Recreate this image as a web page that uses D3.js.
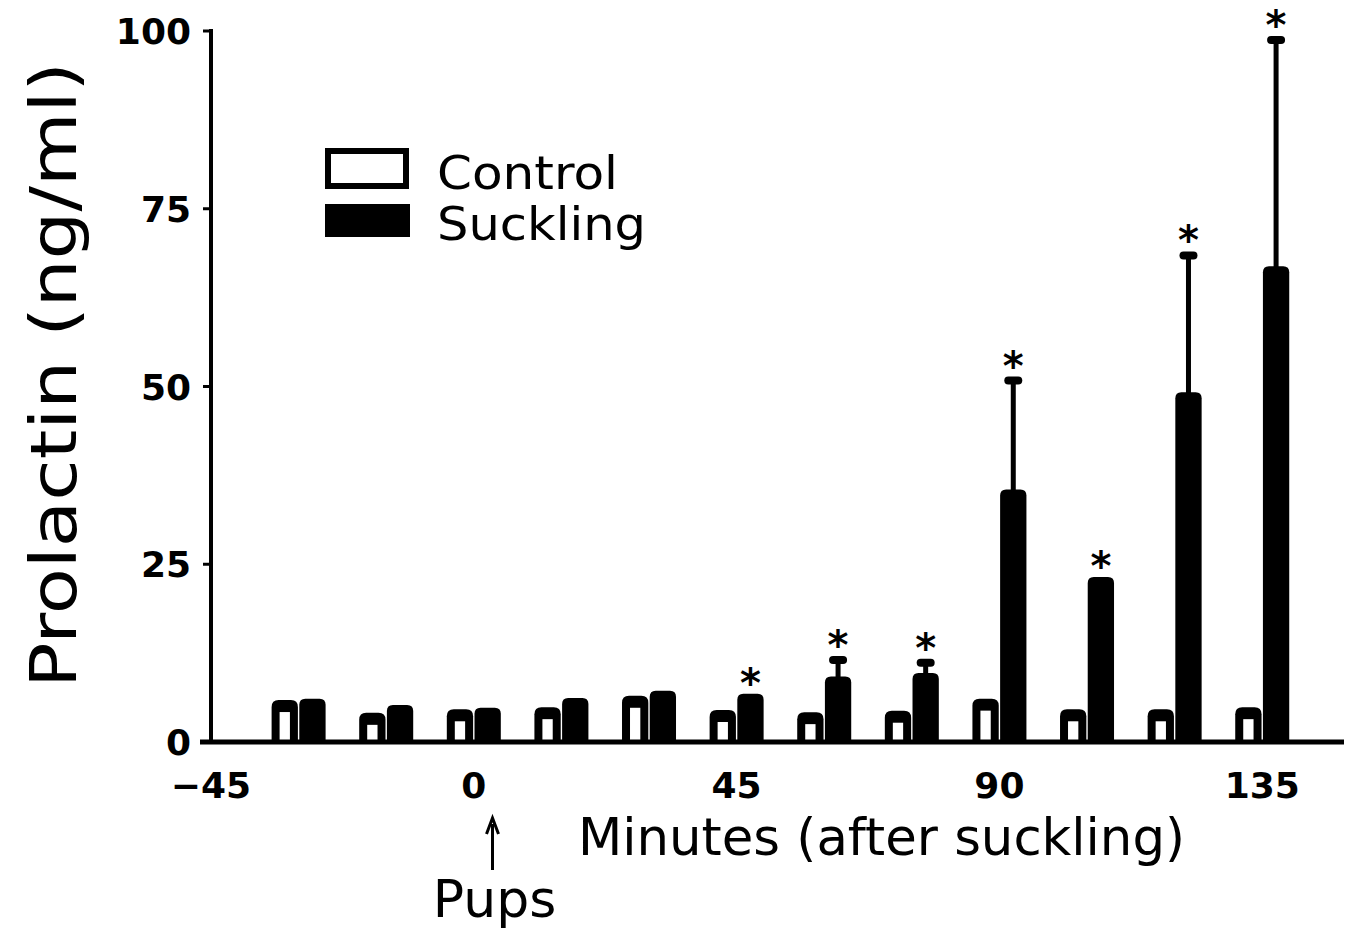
<!DOCTYPE html>
<html>
<head>
<meta charset="utf-8">
<script src="https://cdn.jsdelivr.net/npm/d3@7"></script>
<style>
  html, body { margin: 0; padding: 0; background: #fff; }
  svg { display: block; }
</style>
</head>
<body>
<svg id="chart" width="1361" height="944"></svg>
<script>
// ---- data ----
const times      = [-30, -15, 0, 15, 30, 45, 60, 75, 90, 105, 120, 135];
const control    = [5.9, 4.1, 4.6, 4.9, 6.5, 4.5, 4.2, 4.4, 6.1, 4.6, 4.6, 4.9];
const suckling   = [6.1, 5.2, 4.8, 6.2, 7.2, 6.8, 9.2, 9.7, 35.5, 23.2, 49.2, 66.9];
const sucklingSE = [0, 0, 0, 0, 0, 0, 2.9, 2.0, 15.9, 0, 19.8, 32.4];
const significant = [false, false, false, false, false, true, true, true, true, true, true, true];
const xTicks = [-45, 0, 45, 90, 135];
const yTicks = [0, 25, 50, 75, 100];
const seriesNames = ["Control", "Suckling"];
const pupsTime = 3.2;

// ---- layout ----
const svg = d3.select("#chart");
const x = d3.scaleLinear().domain([-45, 149]).range([211, 1344]);
const y = d3.scaleLinear().domain([0, 100]).range([742, 31]);
const sub = d3.scaleBand().domain(seriesNames).range([-27, 27]).paddingInner(0.05);

const tickFont = "'DejaVu Sans', sans-serif";
const titleFont = "'DejaVu Sans', sans-serif";

function barPath(x0, w, yTop, yBase, r) {
  r = Math.min(r, w / 2, (yBase - yTop));
  return `M${x0},${yBase}V${yTop + r}Q${x0},${yTop} ${x0 + r},${yTop}H${x0 + w - r}Q${x0 + w},${yTop} ${x0 + w},${yTop + r}V${yBase}Z`;
}

const g = svg.append("g");
const bw = sub.bandwidth();

// Control bars (open with thick black walls)
times.forEach((t, i) => {
  const x0 = x(t) + sub("Control");
  const yt = y(control[i]);
  g.append("path").attr("d", barPath(x0, bw, yt, y(0), 7)).attr("fill", "#000");
  g.append("rect")
    .attr("x", x0 + 8).attr("y", yt + 12)
    .attr("width", bw - 16).attr("height", Math.max(0, y(0) - yt - 12))
    .attr("fill", "#fff");
});

// Suckling bars (solid black) with error bars and asterisks
times.forEach((t, i) => {
  const x0 = x(t) + sub("Suckling");
  const cx = x0 + bw / 2;
  const yt = y(suckling[i]);
  g.append("path").attr("d", barPath(x0, bw, yt, y(0), 6)).attr("fill", "#000");
  let topY = yt;
  if (sucklingSE[i] > 0) {
    const ye = y(suckling[i] + sucklingSE[i]);
    g.append("line").attr("x1", cx).attr("x2", cx).attr("y1", yt + 2).attr("y2", ye + 4)
      .attr("stroke", "#000").attr("stroke-width", 5);
    g.append("rect").attr("x", cx - 9).attr("y", ye).attr("width", 18).attr("height", 8)
      .attr("rx", 4).attr("fill", "#000");
    topY = ye;
  }
  if (significant[i]) {
    g.append("text").attr("x", cx).attr("y", topY - 21 + 24)
      .attr("text-anchor", "middle")
      .attr("font-family", tickFont).attr("font-weight", "bold").attr("font-size", 40)
      .text("*");
  }
});

// axes
svg.append("line").attr("x1", 200).attr("x2", x(149)).attr("y1", y(0)).attr("y2", y(0))
  .attr("stroke", "#000").attr("stroke-width", 5);
svg.append("line").attr("x1", x(-45)).attr("x2", x(-45)).attr("y1", y(100) - 2).attr("y2", y(0))
  .attr("stroke", "#000").attr("stroke-width", 4);

yTicks.forEach(v => {
  svg.append("line").attr("x1", x(-45) - 8).attr("x2", x(-45)).attr("y1", y(v)).attr("y2", y(v))
    .attr("stroke", "#000").attr("stroke-width", 3);
  svg.append("text").attr("x", 191).attr("y", y(v) + 13)
    .attr("text-anchor", "end")
    .attr("font-family", tickFont).attr("font-weight", "bold").attr("font-size", 36)
    .text(v);
});

xTicks.forEach(v => {
  svg.append("text").attr("x", x(v) + (v < 0 ? 0 : 0)).attr("y", 798)
    .attr("text-anchor", "middle")
    .attr("font-family", tickFont).attr("font-weight", "bold").attr("font-size", 36)
    .text(v < 0 ? "\u2212" + Math.abs(v) : v);
});

// axis titles
svg.append("text").attr("x", 578).attr("y", 855)
  .attr("font-family", titleFont).attr("font-size", 51)
  .attr("textLength", 607).attr("lengthAdjust", "spacingAndGlyphs")
  .text("Minutes (after suckling)");

svg.append("text")
  .attr("transform", "translate(76,375) rotate(-90)")
  .attr("text-anchor", "middle")
  .attr("font-family", titleFont).attr("font-size", 64)
  .attr("textLength", 626).attr("lengthAdjust", "spacingAndGlyphs")
  .text("Prolactin (ng/ml)");

// Pups annotation
const px = x(pupsTime);
svg.append("line").attr("x1", px).attr("x2", px).attr("y1", 870).attr("y2", 824)
  .attr("stroke", "#000").attr("stroke-width", 3);
svg.append("path").attr("d", `M${px - 6},${834}L${px},${818}L${px + 6},${834}`)
  .attr("fill", "none").attr("stroke", "#000").attr("stroke-width", 3);
svg.append("text").attr("x", px + 2).attr("y", 917).attr("text-anchor", "middle")
  .attr("font-family", titleFont).attr("font-size", 52).text("Pups");

// legend
svg.append("rect").attr("x", 328).attr("y", 151).attr("width", 78).attr("height", 35)
  .attr("fill", "#fff").attr("stroke", "#000").attr("stroke-width", 6);
svg.append("rect").attr("x", 325).attr("y", 204).attr("width", 85).attr("height", 33)
  .attr("fill", "#000");
svg.append("text").attr("x", 437).attr("y", 189)
  .attr("font-family", titleFont).attr("font-size", 47)
  .attr("textLength", 181).attr("lengthAdjust", "spacingAndGlyphs")
  .text(seriesNames[0]);
svg.append("text").attr("x", 437).attr("y", 240)
  .attr("font-family", titleFont).attr("font-size", 47)
  .attr("textLength", 209).attr("lengthAdjust", "spacingAndGlyphs")
  .text(seriesNames[1]);
</script>
</body>
</html>
